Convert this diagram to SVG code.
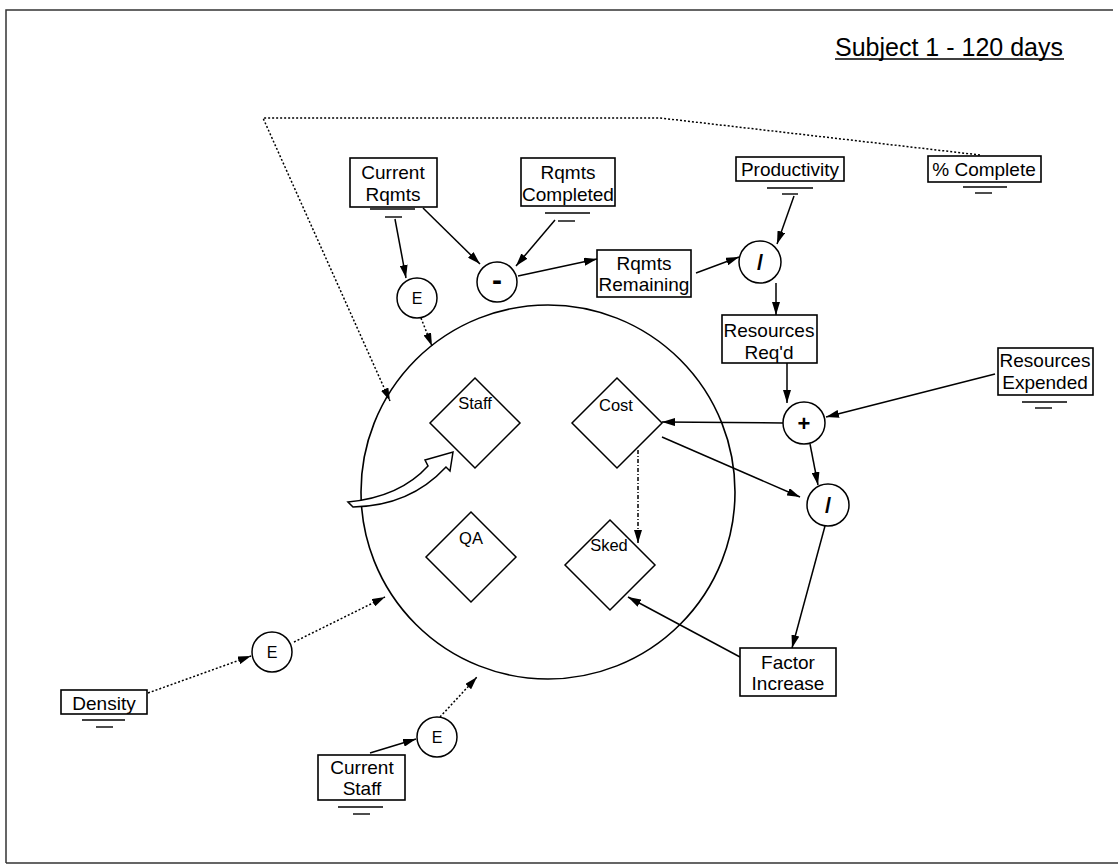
<svg xmlns="http://www.w3.org/2000/svg" width="1118" height="865" viewBox="0 0 1118 865">
  <defs>
    <marker id="arrow" markerUnits="userSpaceOnUse" markerWidth="13" markerHeight="8" refX="13" refY="4" orient="auto">
      <path d="M0,0 L13,4 L0,8 Z" fill="#000"/>
    </marker>
  </defs>
  <style>
    text { font-family: "Liberation Sans", Arial, sans-serif; fill: #000; text-anchor: middle; }
    .lbl { font-size: 19px; }
    .dlbl { font-size: 16.5px; }
    .op { font-size: 16px; }
    .sym { font-size: 22px; font-weight: bold; }
    .box { fill: #fff; stroke: #000; stroke-width: 1.6; }
    .gnd { stroke: #000; stroke-width: 1.4; }
    .node { fill: #fff; stroke: #000; stroke-width: 1.5; }
    .link { fill: none; stroke: #000; stroke-width: 1.5; marker-end: url(#arrow); }
    .dot { fill: none; stroke: #000; stroke-width: 1.5; stroke-dasharray: 2 2; }
    .dash { fill: none; stroke: #000; stroke-width: 1.5; stroke-dasharray: 4 2 1 2; marker-end: url(#arrow); }
  </style>

  <!-- page frame -->
  <path d="M6,863 L6,10 L1113,10 M6,863 L1118,863" fill="none" stroke="#333" stroke-width="1.5"/>

  <!-- title -->
  <g id="title">
    <text x="949" y="56" style="font-size:25px">Subject 1 - 120 days</text>
    <line x1="835" y1="59" x2="1064" y2="59" stroke="#000" stroke-width="1.5"/>
  </g>

  <!-- project boundary -->
  <g id="project">
    <circle cx="548" cy="492" r="187" fill="none" stroke="#000" stroke-width="1.6"/>
  </g>

  <!-- connectors -->
  <g id="connectors">
    <polyline class="dot" points="980,155 660,118 263,118 390,401" marker-end="url(#arrow)"/>
    <line class="link" x1="395" y1="219" x2="406" y2="278"/>
    <line class="link" x1="423" y1="208" x2="480" y2="264"/>
    <line class="link" x1="555" y1="220" x2="516" y2="266"/>
    <line class="link" x1="518" y1="276" x2="597" y2="259"/>
    <line class="link" x1="794" y1="196" x2="777" y2="244"/>
    <line class="link" x1="696" y1="273" x2="739" y2="257"/>
    <line class="link" x1="776" y1="283" x2="776" y2="315"/>
    <line class="link" x1="787" y1="363" x2="787" y2="403"/>
    <line class="link" x1="995" y1="374" x2="826" y2="417"/>
    <line class="link" x1="783" y1="423" x2="662" y2="422"/>
    <line class="link" x1="662" y1="437" x2="800" y2="497"/>
    <line class="link" x1="810" y1="444" x2="818" y2="485"/>
    <line class="link" x1="825" y1="526" x2="792" y2="648"/>
    <line class="link" x1="740" y1="657" x2="628" y2="597"/>
    <line class="link" x1="370" y1="753" x2="416" y2="739"/>
    <line class="dot" x1="421" y1="318" x2="432" y2="346" marker-end="url(#arrow)"/>
    <line class="dot" x1="148" y1="693" x2="251" y2="656" marker-end="url(#arrow)"/>
    <line class="dot" x1="294" y1="642" x2="385" y2="597" marker-end="url(#arrow)"/>
    <line class="dot" x1="440" y1="717" x2="477" y2="677" marker-end="url(#arrow)"/>
    <line class="dash" x1="638" y1="450" x2="638" y2="543"/>
  </g>

  <!-- external inputs -->
  <g id="current-rqmts">
    <rect class="box" x="350" y="158" width="87" height="49"/>
    <text class="lbl" x="393" y="179">Current</text>
    <text class="lbl" x="393" y="201">Rqmts</text>
    <line class="gnd" x1="370" y1="209" x2="415" y2="209"/>
    <line class="gnd" x1="385" y1="217" x2="402" y2="217"/>
  </g>
  <g id="rqmts-completed">
    <rect class="box" x="521" y="158" width="94" height="48"/>
    <text class="lbl" x="568" y="179">Rqmts</text>
    <text class="lbl" x="568" y="201">Completed</text>
    <line class="gnd" x1="545" y1="213" x2="590" y2="213"/>
    <line class="gnd" x1="558" y1="221" x2="575" y2="221"/>
  </g>
  <g id="productivity">
    <rect class="box" x="736" y="157" width="108" height="24"/>
    <text class="lbl" x="790" y="176">Productivity</text>
    <line class="gnd" x1="767" y1="188" x2="813" y2="188"/>
    <line class="gnd" x1="782" y1="194" x2="798" y2="194"/>
  </g>
  <g id="pct-complete">
    <rect class="box" x="928" y="156" width="113" height="26"/>
    <text class="lbl" x="984" y="176">% Complete</text>
    <line class="gnd" x1="963" y1="187" x2="1007" y2="187"/>
    <line class="gnd" x1="975" y1="193" x2="992" y2="193"/>
  </g>
  <g id="resources-expended">
    <rect class="box" x="998" y="348" width="95" height="47"/>
    <text class="lbl" x="1045" y="367">Resources</text>
    <text class="lbl" x="1045" y="389">Expended</text>
    <line class="gnd" x1="1022" y1="402" x2="1067" y2="402"/>
    <line class="gnd" x1="1035" y1="408" x2="1052" y2="408"/>
  </g>
  <g id="density">
    <rect class="box" x="61" y="690" width="86" height="24"/>
    <text class="lbl" x="104" y="710">Density</text>
    <line class="gnd" x1="82" y1="720" x2="125" y2="720"/>
    <line class="gnd" x1="96" y1="727" x2="113" y2="727"/>
  </g>
  <g id="current-staff">
    <rect class="box" x="318" y="755" width="87" height="45"/>
    <text class="lbl" x="362" y="774">Current</text>
    <text class="lbl" x="362" y="795">Staff</text>
    <line class="gnd" x1="338" y1="807" x2="383" y2="807"/>
    <line class="gnd" x1="353" y1="814" x2="370" y2="814"/>
  </g>

  <!-- derived quantities -->
  <g id="rqmts-remaining">
    <rect class="box" x="597" y="250" width="94" height="47"/>
    <text class="lbl" x="644" y="270">Rqmts</text>
    <text class="lbl" x="644" y="291">Remaining</text>
  </g>
  <g id="resources-reqd">
    <rect class="box" x="722" y="315" width="95" height="48"/>
    <text class="lbl" x="769" y="337">Resources</text>
    <text class="lbl" x="769" y="359">Req'd</text>
  </g>
  <g id="factor-increase">
    <rect class="box" x="740" y="648" width="96" height="48"/>
    <text class="lbl" x="788" y="669">Factor</text>
    <text class="lbl" x="788" y="690">Increase</text>
  </g>

  <!-- operators -->
  <g id="op-minus">
    <circle class="node" cx="497" cy="282" r="20"/>
    <text class="sym" x="497" y="290" style="font-size:30px">-</text>
  </g>
  <g id="op-div-1">
    <circle class="node" cx="760" cy="262" r="21"/>
    <text class="sym" x="760" y="270">/</text>
  </g>
  <g id="op-plus">
    <circle class="node" cx="804" cy="423" r="21"/>
    <text class="sym" x="804" y="431">+</text>
  </g>
  <g id="op-div-2">
    <circle class="node" cx="828" cy="505" r="21"/>
    <text class="sym" x="828" y="513">/</text>
  </g>
  <g id="e-rqmts">
    <circle class="node" cx="417" cy="298" r="20"/>
    <text class="op" x="417" y="304">E</text>
  </g>
  <g id="e-density">
    <circle class="node" cx="272" cy="652" r="20"/>
    <text class="op" x="272" y="658">E</text>
  </g>
  <g id="e-staff">
    <circle class="node" cx="437" cy="737" r="20"/>
    <text class="op" x="437" y="743">E</text>
  </g>

  <!-- project attributes -->
  <g id="staff">
    <polygon class="node" points="475,378 520,423 475,468 430,423"/>
    <text class="dlbl" x="475" y="409">Staff</text>
  </g>
  <g id="cost">
    <polygon class="node" points="617,378 662,423 617,468 572,423"/>
    <text class="dlbl" x="616" y="411">Cost</text>
  </g>
  <g id="qa">
    <polygon class="node" points="471,512 516,557 471,602 426,557"/>
    <text class="dlbl" x="471" y="544">QA</text>
  </g>
  <g id="sked">
    <polygon class="node" points="610,520 655,565 610,610 565,565"/>
    <text class="dlbl" x="609" y="551">Sked</text>
  </g>

  <!-- hollow curved arrow into Staff -->
  <g id="staff-influence">
    <path d="M348,502 Q400,497 428,466 L425,460 L453,452 L450,471 L446,467 Q410,506 353,507 Z" fill="#fff" stroke="#000" stroke-width="1.5" stroke-linejoin="miter"/>
  </g>
</svg>
